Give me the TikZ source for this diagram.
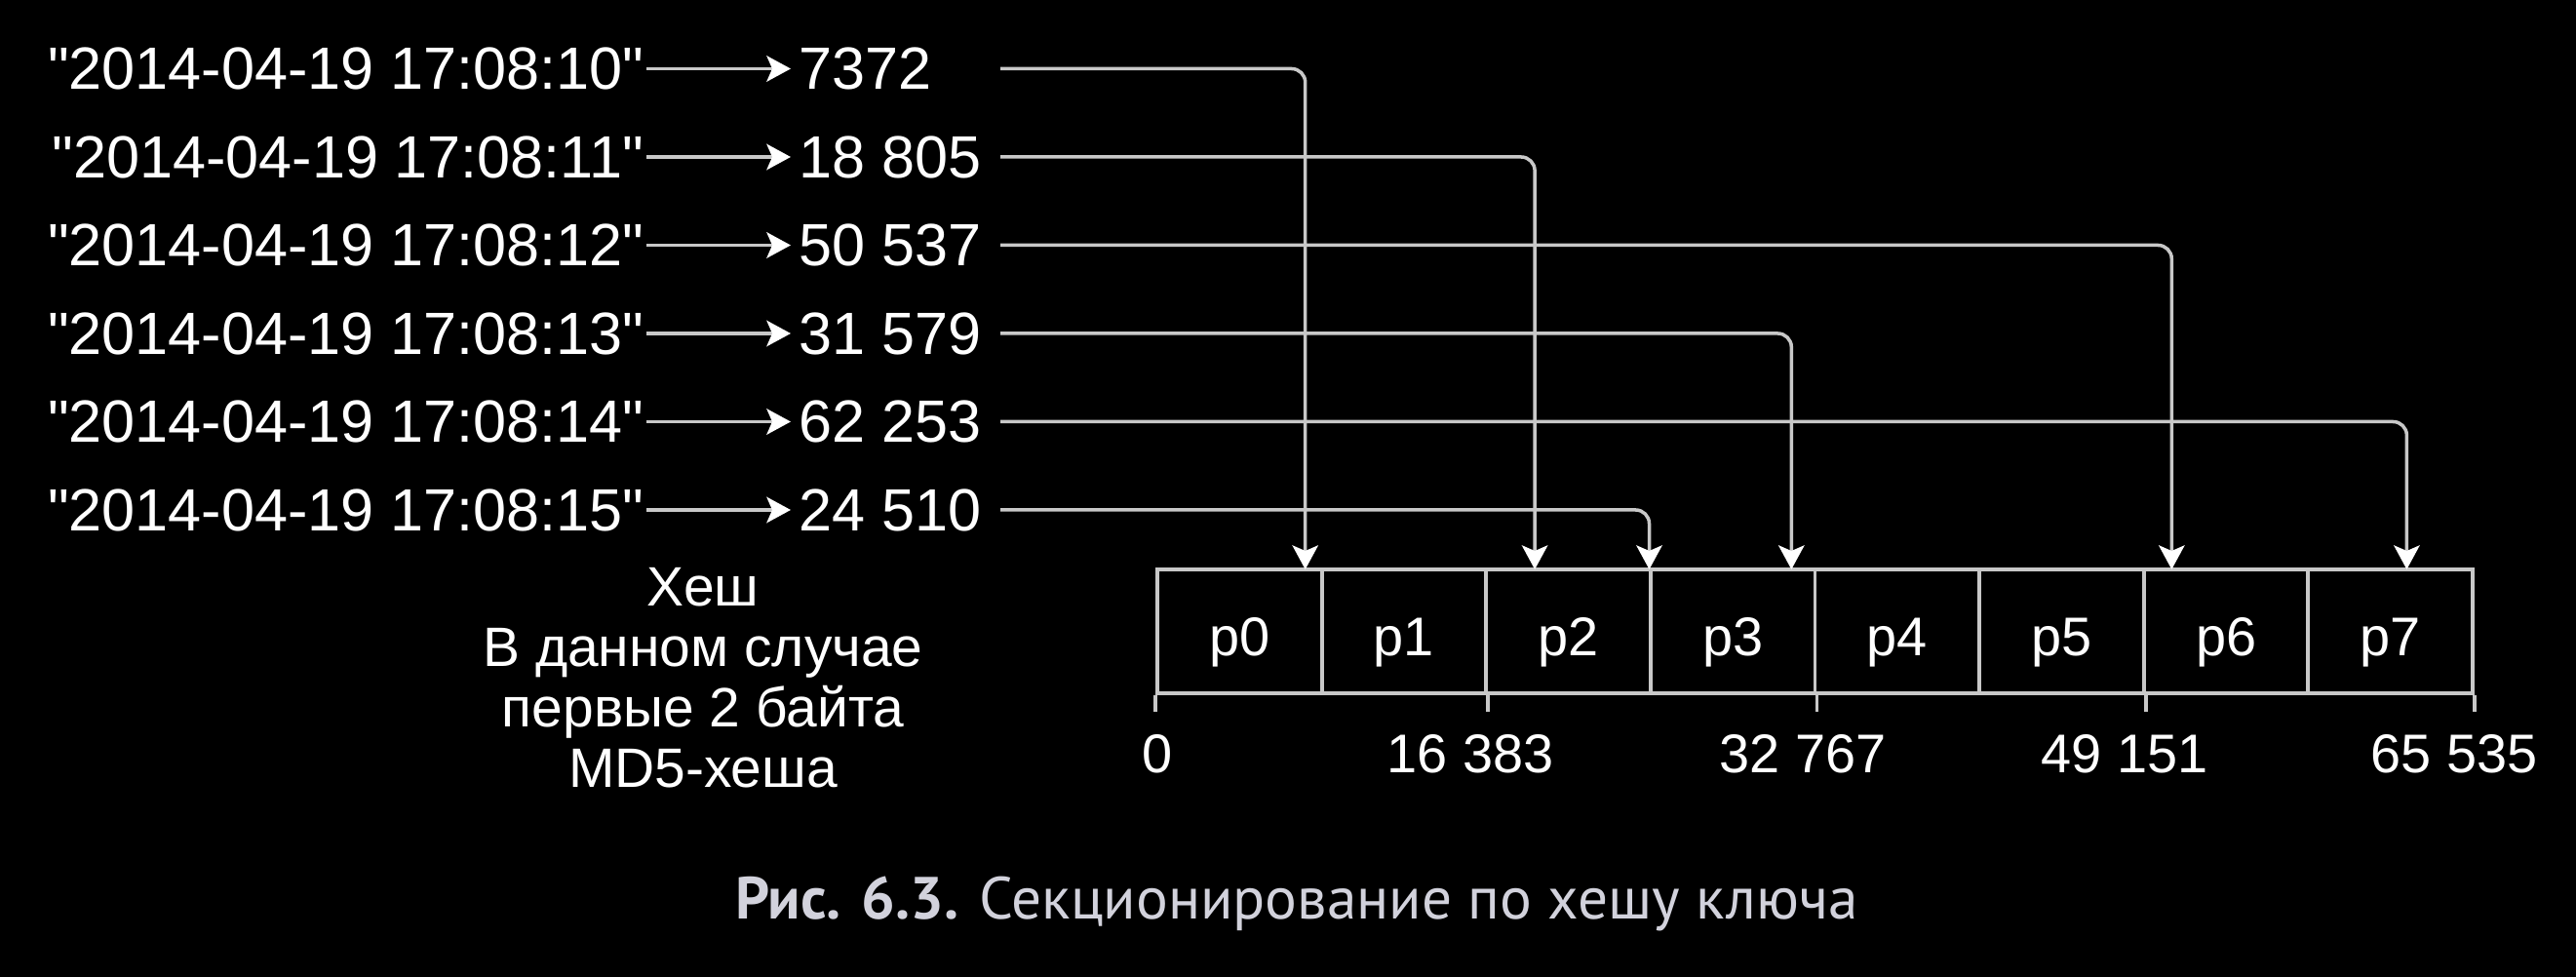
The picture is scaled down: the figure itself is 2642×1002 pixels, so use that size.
\documentclass[tikz,border=0pt]{standalone}
\usepackage{fontspec}
\usepackage{graphicx}
\setmainfont{Liberation Sans}
\newfontfamily\capfont{PT Sans}
\usetikzlibrary{arrows.meta,calc}
\definecolor{ln}{RGB}{200,200,200}
\definecolor{capc}{RGB}{210,210,220}
\newlength\capw
\newcommand\capline{\capfont\fontsize{17.35}{20}\selectfont\textbf{Рис. 6.3.} Секционирование по хешу ключа}
\tikzset{
  tipw/.tip={Stealth[length=7pt,width=7.5pt,inset=1.6pt,color=white,fill=white]},
  datenode/.style={anchor=east,inner sep=0pt,text=white,font=\fontsize{17.4}{20}\selectfont},
  numnode/.style={anchor=west,inner sep=0pt,text=white,font=\fontsize{17.4}{20}\selectfont},
  leftarrow/.style={draw=ln,line width=1.1pt,-tipw,shorten <=0.2mm,shorten >=0.8mm},
  conn/.style={draw=ln,line width=1pt,rounded corners=1.4mm,-tipw},
  cell/.style={draw=ln,line width=1.1pt,minimum width=16.86mm,minimum height=12.67mm,
    inner sep=0pt,text=white,font=\fontsize{15.9}{19}\selectfont,text height=5mm,text depth=0pt},
  tickline/.style={draw=ln,line width=1.1pt},
  ticklabel/.style={anchor=base,inner sep=0pt,text=white,font=\fontsize{15.9}{19}\selectfont},
  blk/.style={align=center,inner sep=0pt,text=white,font=\fontsize{16.2}{17.64}\selectfont},
}
\begin{document}
\begin{tikzpicture}[x=0.1mm,y=-0.1mm]
\fill[black] (0,0) rectangle (2642,1002);
\useasboundingbox (0,0) rectangle (2642,1002);

% rows
\foreach \i/\d/\n/\xe in {1/10/7372/1338.7, 2/11/18 805/1574.1, 3/12/50 537/2227.3,
                          4/13/31 579/1837.3, 5/14/62 253/2468.4, 6/15/24 510/1691.5}{
  \pgfmathsetmacro\yy{70.5+90.5*(\i-1)}
  \node[datenode] (d\i) at (661,\yy) {\textquotedbl 2014-04-19 17:08:\d\textquotedbl};
  \node[numnode] (n\i) at (819,\yy) {\n};
  \coordinate (s\i) at (1026,\yy);
  \coordinate (e\i) at (\xe,584);
  \draw[leftarrow] (d\i) -- (n\i);
}

% partition cells
\foreach \k in {0,...,7}{
  \pgfmathsetmacro\xc{1187+168.625*(\k+0.5)}
  \node[cell] (p\k) at (\xc,647.3) {p\k};
}

% connectors
\foreach \i in {1,...,6}{
  \draw[conn] (s\i) -| (e\i);
}

% ticks
\draw[tickline] (p0.south west) -- ++(0,17);
\draw[tickline] (p1.south east) -- ++(0,17);
\draw[tickline] (p3.south east) -- ++(0,17);
\draw[tickline] (p5.south east) -- ++(0,17);
\draw[tickline] (p7.south east) -- ++(0,17);

\node[ticklabel] (t0) at (1187,793) {0};
\node[ticklabel] (t1) at (1508,793) {16 383};
\node[ticklabel] (t2) at (1849,793) {32 767};
\node[ticklabel] (t3) at (2179,793) {49 151};
\node[ticklabel] (t4) at (2517,793) {65 535};

% hash description
\node[blk] (desc) at (721,695) {Хеш\\В данном случае\\первые 2 байта\\MD5-хеша};

% caption
\node[anchor=base,inner sep=0pt,text=capc] (cap) at (1330,943)
  {\settowidth\capw{\capline}\pgfmathsetmacro\capr{327.78/\capw}\scalebox{\capr}[1]{\capline}};
\end{tikzpicture}
\end{document}
